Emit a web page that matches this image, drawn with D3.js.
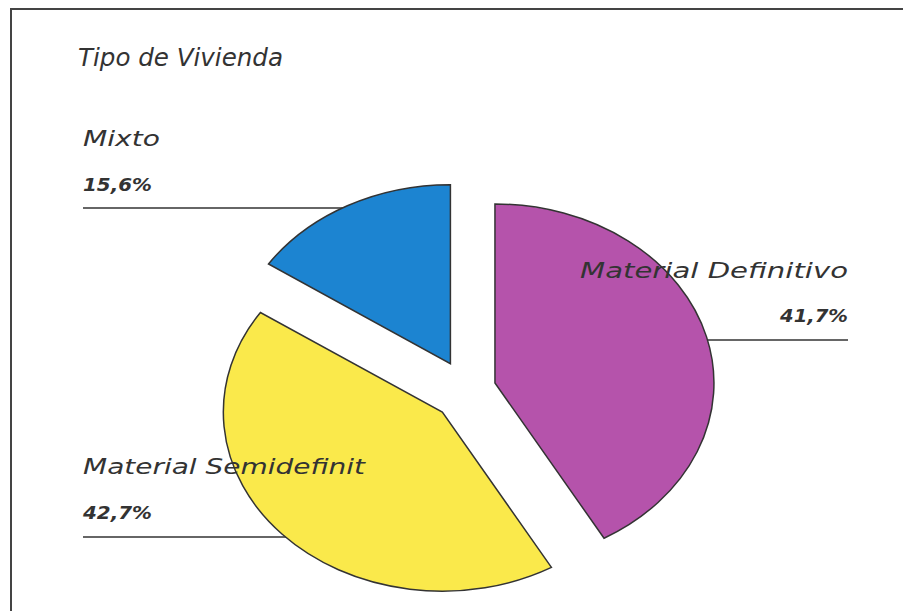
<!DOCTYPE html>
<html>
<head>
<meta charset="utf-8">
<script src="https://cdn.jsdelivr.net/npm/d3@7"></script>
<style>
  body { margin: 0; background: #fff; }
  text { font-family: "Comic Sans MS", "DejaVu Sans", sans-serif; font-style: italic; fill: #333; }
</style>
</head>
<body>
<svg id="chart" width="903" height="611"></svg>
<script>
const title = "Tipo de Vivienda";
const categories = ["Material Definitivo", "Material Semidefinit", "Mixto"];
const values = [41.7, 42.7, 15.6];
const valueLabels = ["41,7%", "42,7%", "15,6%"];
const colors = ["#b553ab", "#fae94b", "#1c84d1"];

const width = 903, height = 611;
const cx = 465, cy = 391;
const rx = 219, ry = 179;
const explode = 31;

const svg = d3.select("#chart");

// frame: only top and left edges show in the scan
svg.append("path")
  .attr("d", `M11,${height} L11,9 L${width},9`)
  .attr("fill", "none")
  .attr("stroke", "#444")
  .attr("stroke-width", 2);

svg.append("text")
  .attr("x", 78).attr("y", 66)
  .attr("font-size", 24)
  .attr("textLength", 205).attr("lengthAdjust", "spacingAndGlyphs")
  .text(title);

// label layout: name, value, leader line
const labels = [
  { name: [580, 278, 268, "start"], value: [848, 322, 68, "end"], line: [705, 848, 340] },
  { name: [83, 474, 282, "start"], value: [83, 519, 69, "start"], line: [83, 290, 537] },
  { name: [83, 146, 77, "start"], value: [83, 191, 69, "start"], line: [83, 350, 208] }
];

// leader lines go under the slices
labels.forEach(l => {
  svg.append("line")
    .attr("x1", l.line[0]).attr("x2", l.line[1])
    .attr("y1", l.line[2]).attr("y2", l.line[2])
    .attr("stroke", "#333").attr("stroke-width", 1.5);
});

const pie = d3.pie().sort(null).value(d => d)(values);
const arc = d3.arc().innerRadius(0).outerRadius(ry);

svg.append("g").selectAll("path")
  .data(pie)
  .join("path")
  .attr("d", arc)
  .attr("transform", d => {
    const mid = (d.startAngle + d.endAngle) / 2;
    const tx = cx + explode * Math.sin(mid);
    const ty = cy - explode * Math.cos(mid);
    return `translate(${tx},${ty}) scale(${rx / ry},1)`;
  })
  .attr("fill", (d, i) => colors[i])
  .attr("stroke", "#333")
  .attr("stroke-width", 1.5)
  .attr("vector-effect", "non-scaling-stroke");

labels.forEach((l, i) => {
  svg.append("text")
    .attr("x", l.name[0]).attr("y", l.name[1])
    .attr("font-size", 22)
    .attr("text-anchor", l.name[3])
    .attr("textLength", l.name[2]).attr("lengthAdjust", "spacingAndGlyphs")
    .text(categories[i]);
  svg.append("text")
    .attr("x", l.value[0]).attr("y", l.value[1])
    .attr("font-size", 18)
    .attr("font-weight", "bold")
    .attr("text-anchor", l.value[3])
    .attr("textLength", l.value[2]).attr("lengthAdjust", "spacingAndGlyphs")
    .text(valueLabels[i]);
});
</script>
</body>
</html>
